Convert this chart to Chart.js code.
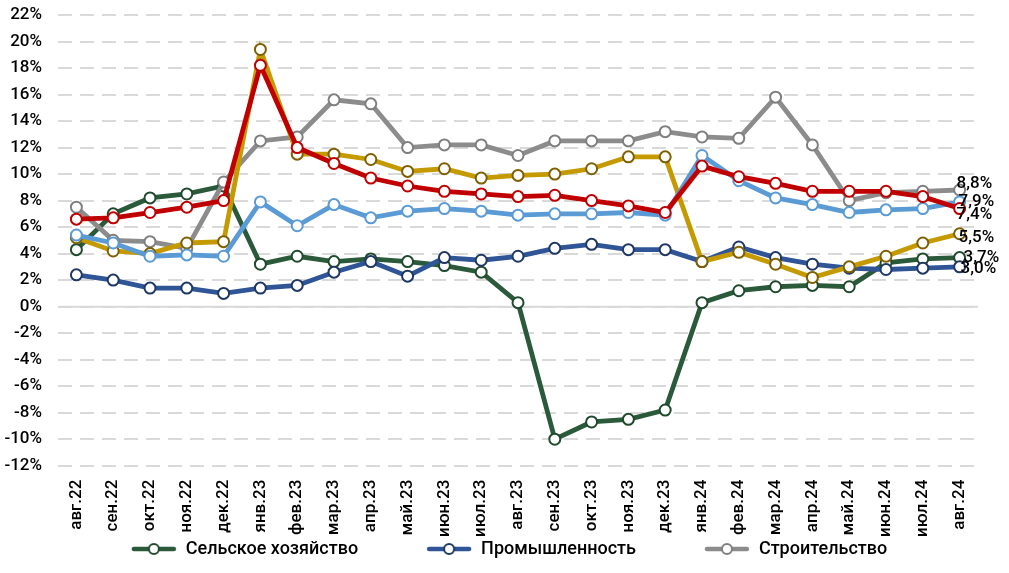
<!DOCTYPE html>
<html>
<head>
<meta charset="utf-8">
<script src="https://cdn.jsdelivr.net/npm/chart.js@4"></script>
<style>
  html, body { margin: 0; padding: 0; background: #fff; }
  #wrap { width: 1009px; height: 573px; position: relative; }
</style>
</head>
<body>
<div id="wrap"><canvas id="chart"></canvas></div>
<script>
// months on the x axis
var months = ['авг.22','сен.22','окт.22','ноя.22','дек.22','янв.23','фев.23','мар.23','апр.23','май.23','июн.23','июл.23',
  'авг.23','сен.23','окт.23','ноя.23','дек.23','янв.24','фев.24','мар.24','апр.24','май.24','июн.24','июл.24','авг.24'];

// series values, %
var agriculture  = [4.3,7.0,8.2,8.5,9.1,3.2,3.8,3.4,3.6,3.4,3.1,2.6,0.3,-10.0,-8.7,-8.5,-7.8,0.3,1.2,1.5,1.6,1.5,3.3,3.6,3.7];
var industry     = [2.4,2.0,1.4,1.4,1.0,1.4,1.6,2.6,3.4,2.3,3.7,3.5,3.8,4.4,4.7,4.3,4.3,3.4,4.5,3.7,3.2,2.9,2.8,2.9,3.0];
var construction = [7.5,5.0,4.9,4.4,9.4,12.5,12.8,15.6,15.3,12.0,12.2,12.2,11.4,12.5,12.5,12.5,13.2,12.8,12.7,15.8,12.2,8.0,8.6,8.7,8.8];
var seriesGold   = [5.2,4.2,4.0,4.8,4.9,19.4,11.5,11.5,11.1,10.2,10.4,9.7,9.9,10.0,10.4,11.3,11.3,3.4,4.1,3.2,2.2,3.0,3.8,4.8,5.5];
var seriesRed    = [6.6,6.7,7.1,7.5,8.0,18.2,12.0,10.8,9.7,9.1,8.7,8.5,8.3,8.4,8.0,7.6,7.1,10.6,9.8,9.3,8.7,8.7,8.7,8.3,7.4];
var seriesLight  = [5.4,4.8,3.8,3.9,3.8,7.9,6.1,7.7,6.7,7.2,7.4,7.2,6.9,7.0,7.0,7.1,6.9,11.4,9.5,8.2,7.7,7.1,7.3,7.4,7.9];

// y axis ticks
var yMin = -12, yMax = 22, yStep = 2;

var FONT = 'Roboto';
var WEIGHT = '500';

function fmt(v) {
  return v.toFixed(1).replace('.', ',') + '%';
}

// little line + circle sample for the legend
function legendIcon(color, border) {
  var c = document.createElement('canvas');
  c.width = 46; c.height = 14;
  var g = c.getContext('2d');
  g.strokeStyle = color;
  g.lineWidth = 4.5;
  g.lineCap = 'round';
  g.beginPath(); g.moveTo(3, 7); g.lineTo(43, 7); g.stroke();
  g.beginPath(); g.arc(23, 7, 5, 0, Math.PI * 2);
  g.fillStyle = '#fff'; g.fill();
  g.lineWidth = 2; g.strokeStyle = border; g.stroke();
  return c;
}

function line(label, data, color, border, order, labelDx, labelDy) {
  return {
    label: label,
    data: data,
    borderColor: color,
    backgroundColor: color,
    borderWidth: 4.8,
    pointRadius: 5.5,
    pointHoverRadius: 5.5,
    pointBorderWidth: 2,
    pointBorderColor: border,
    pointBackgroundColor: '#fff',
    tension: 0,
    order: order,
    legendIcon: legendIcon(color, border),
    endDx: labelDx,
    endDy: labelDy
  };
}

var datasets = [
  line('Сельское хозяйство', agriculture, '#2b5a3b', '#1f4a2e', 6, 4, 0),
  line('Промышленность', industry, '#2f5597', '#1f3864', 5, 1, 2),
  line('Строительство', construction, '#8c8c8c', '#7f7f7f', 4, -3, -6),
  line('', seriesGold, '#c49a00', '#7f6000', 3, -1, 4),
  line('', seriesLight, '#5b9bd5', '#5b9bd5', 2, -1, 0),
  line('', seriesRed, '#c00000', '#c00000', 1, -3, 6)
];

// solid line at zero
var zeroLine = {
  id: 'zeroLine',
  beforeDatasetsDraw: function (chart) {
    var y = chart.scales.y.getPixelForValue(0);
    var a = chart.chartArea;
    var ctx = chart.ctx;
    ctx.save();
    ctx.strokeStyle = '#d9d9d9';
    ctx.lineWidth = 2;
    ctx.beginPath(); ctx.moveTo(a.left, y); ctx.lineTo(a.right, y); ctx.stroke();
    ctx.restore();
  }
};

// last value labels at the right end
var endLabels = {
  id: 'endLabels',
  afterDatasetsDraw: function (chart) {
    var ctx = chart.ctx;
    ctx.save();
    ctx.font = WEIGHT + ' 17px ' + FONT;
    ctx.fillStyle = '#000';
    ctx.textAlign = 'left';
    ctx.textBaseline = 'middle';
    chart.data.datasets.forEach(function (ds, i) {
      var meta = chart.getDatasetMeta(i);
      var last = ds.data.length - 1;
      var pt = meta.data[last];
      ctx.fillText(fmt(ds.data[last]), pt.x + ds.endDx, pt.y + ds.endDy);
    });
    ctx.restore();
  }
};

// keep the wide gaps between legend items without a tall legend box
var legendPad = 68;
var legendShift = {
  id: 'legendShift',
  afterLayout: function (chart) {
    var lg = chart.legend;
    lg.top = lg.top - legendPad - 3;
    lg.left += 20;
    lg.right += 20;
  }
};

new Chart(document.getElementById('chart'), {
  type: 'line',
  data: { labels: months, datasets: datasets },
  plugins: [zeroLine, endLabels, legendShift],
  options: {
    responsive: true,
    maintainAspectRatio: false,
    animation: false,
    layout: { padding: { left: 0, right: 31, top: 0, bottom: 0 } },
    scales: {
      x: {
        offset: true,
        grid: { display: false },
        border: { display: false },
        ticks: {
          autoSkip: false,
          minRotation: 90,
          maxRotation: 90,
          padding: 6,
          color: '#000',
          font: { family: FONT, size: 17, weight: WEIGHT }
        }
      },
      y: {
        min: yMin,
        max: yMax,
        afterFit: function (axis) {
          axis.width = 58;
          axis.paddingTop = 15;
        },
        grid: { color: '#d9d9d9', lineWidth: 2, drawTicks: false },
        border: { display: false, dash: [14, 8] },
        ticks: {
          stepSize: yStep,
          padding: 16,
          color: '#000',
          font: { family: FONT, size: 17, weight: WEIGHT },
          callback: function (v) { return v + '%'; }
        }
      }
    },
    plugins: {
      tooltip: { enabled: false },
      legend: {
        position: 'bottom',
        maxHeight: 30,
        labels: {
          usePointStyle: true,
          pointStyleWidth: 46,
          padding: legendPad,
          color: '#000',
          font: { family: FONT, size: 18, weight: WEIGHT },
          filter: function (item) { return item.datasetIndex < 3; },
          sort: function (a, b) { return a.datasetIndex - b.datasetIndex; },
          generateLabels: function (chart) {
            return chart.data.datasets.map(function (ds, i) {
              return {
                text: ds.label,
                pointStyle: ds.legendIcon,
                fillStyle: ds.borderColor,
                strokeStyle: ds.borderColor,
                lineWidth: 0,
                hidden: false,
                datasetIndex: i,
                fontColor: '#000'
              };
            });
          }
        }
      }
    }
  }
});
</script>
</body>
</html>
